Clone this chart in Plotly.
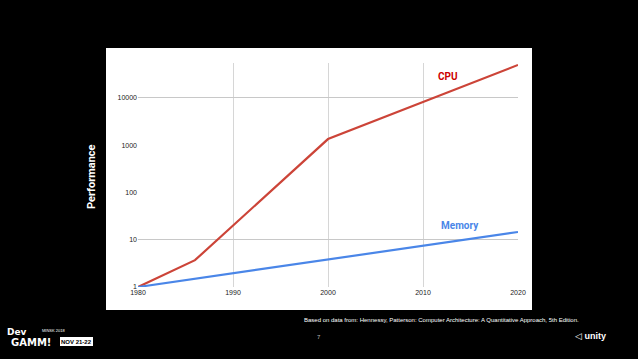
import plotly.graph_objects as go

W, H = 638, 359

years = [1980, 1986, 2000, 2020]
cpu = [1, 3.7, 1350, 50000]
mem_years = [1980, 2020]
memory = [1, 14.6]

x_ticks = [1980, 1990, 2000, 2010, 2020]
x_tick_labels = ["1980", "1990", "2000", "2010", "2020"]
y_ticks = [1, 10, 100, 1000, 10000]
y_tick_labels = ["1", "10", "100", "1000", "10000"]
grid_y = [1, 10, 10000]

def px_x(p):
    return p / W

def px_y(p):
    return 1 - p / H

fig = go.Figure()
fig.add_trace(go.Scatter(x=years, y=cpu, mode="lines",
                         line=dict(color="#cc4438", width=2.2), showlegend=False, hoverinfo="skip"))
fig.add_trace(go.Scatter(x=mem_years, y=memory, mode="lines",
                         line=dict(color="#4a86e8", width=2.2), showlegend=False, hoverinfo="skip"))
# invisible trace on y2 to drive the partial horizontal gridlines
fig.add_trace(go.Scatter(x=[1980], y=[1], yaxis="y2", mode="markers",
                         marker=dict(opacity=0), showlegend=False, hoverinfo="skip"))

shapes = [
    dict(type="rect", xref="paper", yref="paper", layer="below",
         x0=px_x(106), x1=px_x(532), y0=px_y(310), y1=px_y(48),
         fillcolor="white", line=dict(width=0)),
    dict(type="rect", xref="paper", yref="paper", layer="below",
         x0=px_x(60), x1=px_x(93), y0=px_y(346), y1=px_y(337),
         fillcolor="white", line=dict(width=0)),
]

fig.update_layout(
    width=W, height=H, autosize=False,
    margin=dict(l=0, r=0, t=0, b=0, autoexpand=False),
    paper_bgcolor="black", plot_bgcolor="white",
    xaxis=dict(domain=[px_x(138), px_x(518)], range=[1980, 2020],
               tickvals=x_ticks, ticktext=x_tick_labels,
               showgrid=True, gridcolor="#d6d6d6", zeroline=False, automargin=False,
               showline=False, ticks="",
               tickfont=dict(family="Arial", size=7, color="#222222")),
    yaxis=dict(domain=[px_y(287), px_y(63)], type="log", range=[0, 4.74],
               tickvals=y_ticks, ticktext=y_tick_labels,
               showgrid=False, zeroline=False, automargin=False, showline=False, ticks="",
               tickfont=dict(family="Arial", size=7, color="#222222")),
    yaxis2=dict(domain=[px_y(287), px_y(63)], overlaying="y", type="log", range=[0, 4.74],
                tickvals=grid_y, showticklabels=False, showgrid=True, gridcolor="#c8c8c8",
                zeroline=False, ticks="", automargin=False),
    shapes=shapes,
)

ann = [
    dict(text="<b>Performance</b>", x=px_x(91), y=px_y(177), textangle=-90,
         font=dict(family="Roboto", size=11, color="white")),
    dict(text="<b>CPU</b>", x=px_x(448), y=px_y(76),
         font=dict(family="Roboto", size=10, color="#cc0000")),
    dict(text="<b>Memory</b>", x=px_x(460), y=px_y(225),
         font=dict(family="Roboto", size=10, color="#4a86e8")),
    dict(text="Based on data from: Hennessy, Patterson: Computer Architecture: A Quantitative Approach, 5th Edition.",
         x=px_x(302), y=px_y(320), xanchor="left",
         font=dict(family="Arial", size=6, color="white")),
    dict(text="7", x=px_x(319), y=px_y(337),
         font=dict(family="Arial", size=6, color="#bbbbbb")),
    dict(text="<b>Dev</b>", x=px_x(5), y=px_y(332), xanchor="left",
         font=dict(family="DejaVu Sans", size=9, color="white")),
    dict(text="<b>GAMM!</b>", x=px_x(9), y=px_y(342), xanchor="left",
         font=dict(family="DejaVu Sans", size=10, color="white")),
    dict(text="MINSK 2018", x=px_x(40), y=px_y(330), xanchor="left",
         font=dict(family="Arial", size=4, color="white")),
    dict(text="<b>NOV 21-22</b>", x=px_x(76.5), y=px_y(341.5),
         font=dict(family="Arial", size=6, color="black")),
    dict(text="◁ <b>unity</b>", x=px_x(573), y=px_y(336), xanchor="left",
         font=dict(family="Arial", size=9, color="white")),
]
for a in ann:
    a.setdefault("xref", "paper")
    a.setdefault("yref", "paper")
    a.setdefault("xanchor", "center")
    a.setdefault("yanchor", "middle")
    a.setdefault("showarrow", False)
    fig.add_annotation(**a)

fig.write_html("out.html", config={"displayModeBar": False},
               post_script="document.body.style.margin='0';document.documentElement.style.overflow='hidden';")
